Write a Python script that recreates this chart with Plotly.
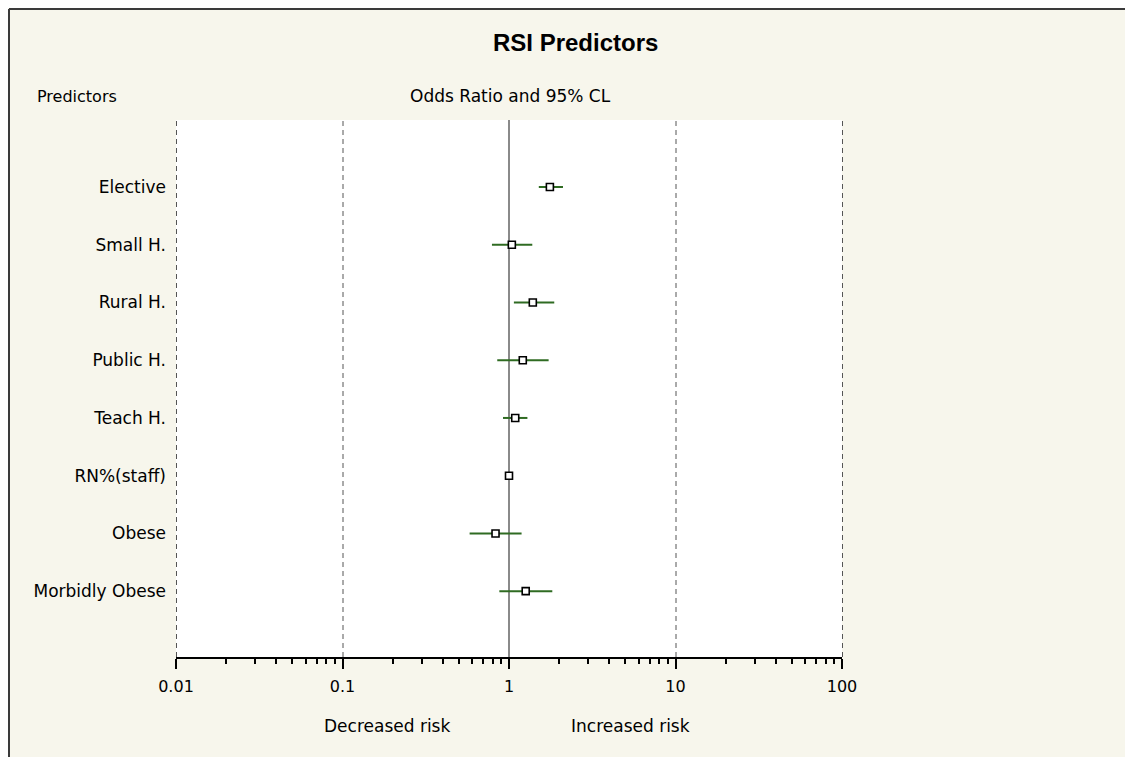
import math
import plotly.graph_objects as go

# ---- data ----
predictors = ["Elective", "Small H.", "Rural H.", "Public H.", "Teach H.",
              "RN%(staff)", "Obese", "Morbidly Obese"]
odds_ratio = [1.76, 1.04, 1.39, 1.21, 1.09, 1.00, 0.83, 1.26]
ci_lower   = [1.51, 0.79, 1.07, 0.85, 0.92, 0.99, 0.58, 0.875]
ci_upper   = [2.11, 1.38, 1.87, 1.73, 1.29, 1.01, 1.19, 1.82]
tick_vals  = [0.01, 0.1, 1, 10, 100]
tick_text  = ["0.01", "0.1", "1", "10", "100"]
minor_vals = [m * 10 ** e for e in range(-2, 2) for m in range(2, 10)]
ref_value  = 1

W, H = 1133, 757
OFF = 8  # page body margin
L, R, T, B = 168, 299, 112, 108
PW, PH = W - L - R, H - T - B
X_RANGE = [-2, 2]  # log10 units


def px(x):  # screen x -> paper
    return (x - OFF - L) / PW


def py(y):  # screen y -> paper
    return (H - B - (y - OFF)) / PH


def val_to_paper(v):
    return (math.log10(v) - X_RANGE[0]) / (X_RANGE[1] - X_RANGE[0])


rows = list(range(1, len(predictors) + 1))
y_lo, y_hi = 0 - 0.16, len(predictors) + 1.14

CREAM = "#f7f6ec"
GREEN = "#2f6b22"
LABEL_FONT = "DejaVu Sans"

fig = go.Figure()

# solid line at OR = 1
fig.add_trace(go.Scatter(x=[ref_value, ref_value], y=[y_lo, y_hi], mode="lines",
                         line=dict(color="#8a8a8a", width=2),
                         hoverinfo="skip", showlegend=False))

# CI + point estimates
fig.add_trace(go.Scatter(
    x=odds_ratio, y=rows, mode="markers",
    marker=dict(symbol="square", size=7, color="white",
                line=dict(color="black", width=1.6)),
    error_x=dict(type="data", symmetric=False,
                 array=[u - o for u, o in zip(ci_upper, odds_ratio)],
                 arrayminus=[o - l for o, l in zip(odds_ratio, ci_lower)],
                 color=GREEN, thickness=2, width=0),
    showlegend=False,
    hovertemplate="%{text}: %{x}<extra></extra>", text=predictors))

fig.update_xaxes(
    type="log", range=X_RANGE,
    tickmode="array", tickvals=tick_vals, ticktext=tick_text,
    ticks="outside", ticklen=10, tickwidth=1.5, tickcolor="black",
    minor=dict(tickmode="array", tickvals=minor_vals, ticks="outside",
               ticklen=5, tickwidth=1.5, tickcolor="black", showgrid=False),
    showgrid=False, zeroline=False,
    showline=True, linecolor="black", linewidth=1.5,
    ticklabelstandoff=4,
    tickfont=dict(family=LABEL_FONT, size=16, color="black"),
)
fig.update_yaxes(
    range=[y_hi, y_lo], tickmode="array", tickvals=rows, ticktext=predictors,
    showgrid=False, zeroline=False, showline=False, ticks="",
    ticklabelstandoff=9,
    tickfont=dict(family=LABEL_FONT, size=17, color="black"),
)

annotations = [
    dict(text="<b>RSI Predictors</b>", x=px(575), y=py(42),
         font=dict(family="Liberation Sans", size=24, color="black")),
    dict(text="Predictors", x=px(35), y=py(96), xanchor="left",
         font=dict(family=LABEL_FONT, size=16, color="black")),
    dict(text="Odds Ratio and 95% CL", x=px(510), y=py(96),
         font=dict(family=LABEL_FONT, size=17, color="black")),
    dict(text="Decreased risk", x=px(387), y=py(726),
         font=dict(family=LABEL_FONT, size=17, color="black")),
    dict(text="Increased risk", x=px(630), y=py(726),
         font=dict(family=LABEL_FONT, size=17, color="black")),
]
for a in annotations:
    a.update(xref="paper", yref="paper", showarrow=False)
    a.setdefault("xanchor", "center")
    a.setdefault("yanchor", "middle")

shapes = []
# dashed vertical reference lines at the decades (other than OR = 1)
for v in tick_vals:
    if v == ref_value:
        continue
    xp = val_to_paper(v) + 0.5 / PW
    shapes.append(dict(type="line", x0=xp, x1=xp, y0=0, y1=1, layer="above",
                       line=dict(color="#555555", width=1, dash="5px,4px")))
# frame lines along the figure's left and top edges
shapes += [
    dict(type="line", x0=px(9), x1=px(9), y0=py(H + 40), y1=py(9),
         line=dict(color="#3a3a3a", width=2)),
    dict(type="line", x0=px(9), x1=px(W + 40), y0=py(9), y1=py(9),
         line=dict(color="#3a3a3a", width=2)),
]
for s in shapes:
    s.update(xref="paper", yref="paper")

fig.update_layout(
    width=W, height=H,
    margin=dict(l=L, r=R, t=T, b=B),
    paper_bgcolor=CREAM, plot_bgcolor="white",
    annotations=annotations, shapes=shapes,
    showlegend=False,
)

fig.write_html("out.html")
